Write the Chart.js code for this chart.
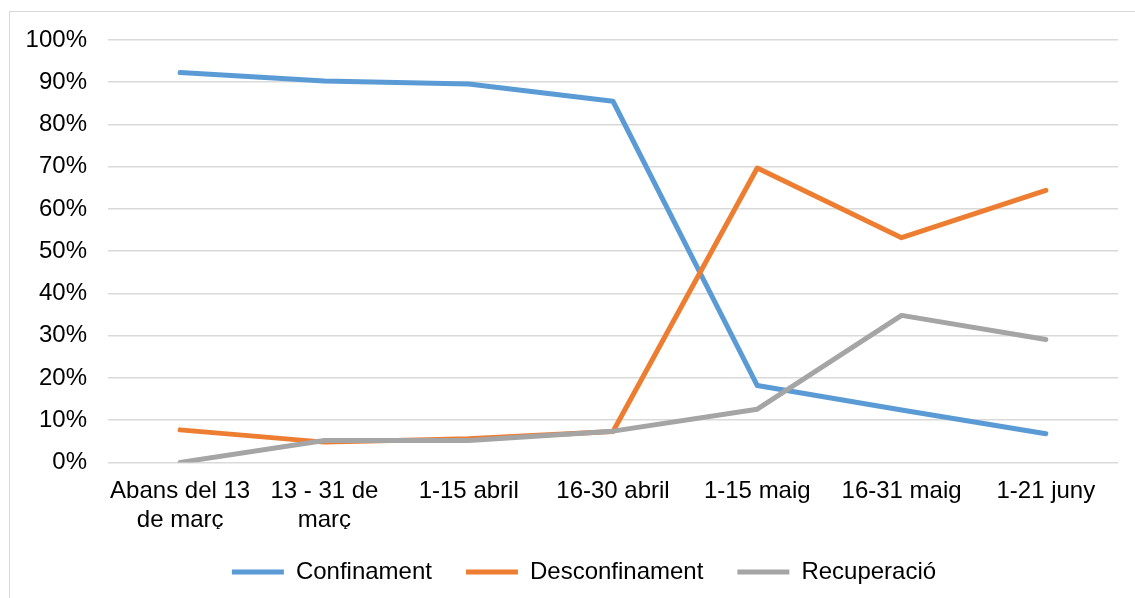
<!DOCTYPE html>
<html>
<head>
<meta charset="utf-8">
<script src="https://cdn.jsdelivr.net/npm/chart.js@4/dist/chart.umd.min.js"></script>
<style>
  html, body { margin: 0; padding: 0; background: #fff; overflow: hidden; }
  #wrap { position: relative; width: 1135px; height: 598px; }
  #frame { position: absolute; left: 9px; top: 11px; width: 1200px; height: 700px; border: 1px solid #d9d9d9; }
  #chart { position: absolute; left: 0; top: 0; }
</style>
</head>
<body>
<div id="wrap">
  <div id="frame"></div>
  <canvas id="chart" width="1135" height="598"></canvas>
</div>
<script>
// =====================
// DATA
// =====================

const categories = [
  ["Abans del 13", "de març"],
  ["13 - 31 de", "març"],
  "1-15 abril",
  "16-30 abril",
  "1-15 maig",
  "16-31 maig",
  "1-21 juny"
];

const confinament    = [92.3, 90.3, 89.6, 85.5, 18.2, 12.4, 6.8];
const desconfinament = [7.7, 4.8, 5.6, 7.3, 69.7, 53.2, 64.4];
const recuperacio    = [0, 5.2, 5.2, 7.4, 12.6, 34.8, 29.1];

const seriesNames = ["Confinament", "Desconfinament", "Recuperació"];
const yTicks = [0, 10, 20, 30, 40, 50, 60, 70, 80, 90, 100];

// =====================
// CHART
// =====================

const FONT = { family: "'Liberation Sans', Arial, sans-serif", size: 24 };

function line(label, data, color, order) {
  return {
    label,
    data,
    borderColor: color,
    backgroundColor: color,
    borderWidth: 5,
    borderCapStyle: "round",
    borderJoinStyle: "round",
    pointRadius: 0,
    tension: 0,
    fill: false,
    order
  };
}

// the legend sits a bit right of the canvas centre in the original
const legendShift = {
  id: "legendShift",
  afterLayout(chart) {
    const lg = chart.legend;
    lg.left += 15;
    lg.right += 15;
    lg.top -= 3;
    lg.bottom -= 3;
  }
};

new Chart(document.getElementById("chart"), {
  type: "line",
  data: {
    labels: categories,
    datasets: [
      line(seriesNames[0], confinament, "#5b9bd5", 3),
      line(seriesNames[1], desconfinament, "#ed7d31", 2),
      line(seriesNames[2], recuperacio, "#a5a5a5", 1)
    ]
  },
  plugins: [legendShift],
  options: {
    responsive: false,
    animation: false,
    layout: { padding: { left: 20, right: 17, top: 40, bottom: 1 } },
    plugins: {
      tooltip: { enabled: false },
      legend: {
        position: "bottom",
        labels: {
          usePointStyle: true,
          pointStyle: "line",
          pointStyleWidth: 52,
          padding: 34,
          color: "#000",
          font: FONT,
          sort: (a, b) => a.datasetIndex - b.datasetIndex
        }
      }
    },
    scales: {
      x: {
        offset: true,
        afterFit: s => { s.height -= 21; },
        grid: { display: false, drawTicks: false },
        border: { display: false },
        ticks: { color: "#000", font: FONT, padding: 15, maxRotation: 0, autoSkip: false }
      },
      y: {
        min: 0,
        max: 100,
        afterFit: s => { s.width = 88; },
        afterBuildTicks: s => { s.ticks = yTicks.map(v => ({ value: v })); },
        grid: { color: "#d9d9d9", lineWidth: 1.5, drawTicks: false },
        border: { display: false },
        ticks: { color: "#000", font: FONT, padding: 21, callback: v => v + "%" }
      }
    }
  }
});
</script>
</body>
</html>
